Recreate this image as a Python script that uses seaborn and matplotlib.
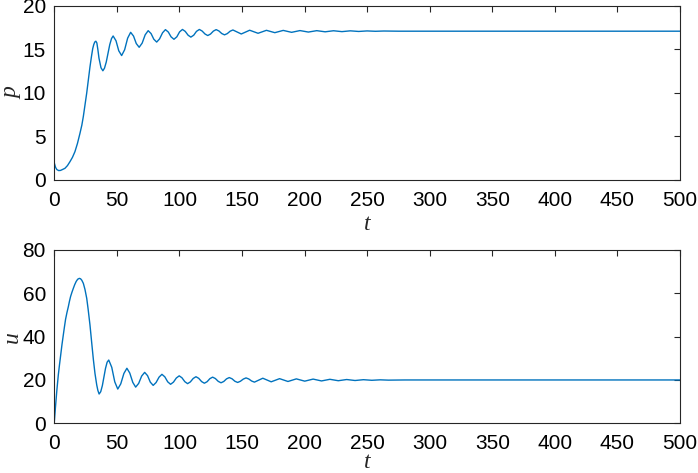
import numpy as np
import pandas as pd
import seaborn as sns
import matplotlib
matplotlib.use('Agg')
import matplotlib.pyplot as plt

# p(t): values
t_p = [0, 1, 2, 3.5, 5, 6.5, 8.5, 10.5, 12.5, 14.5, 16.5, 18.5, 20.5, 22, 23.2, 24.5, 25.9, 27.2, 28.5, 29.7,
       30.7, 31.5, 32.3, 33.2, 34.0, 34.8, 35.7, 37.3,
       38.8, 40.1, 41.5, 42.9, 44.3, 45.7, 47.0, 49.3, 51.5, 53.8, 56.2, 58.6, 61.0, 63.3, 65.5, 67.8, 70.2, 72.6,
       75.0, 77.3, 79.5, 81.8, 84.1, 86.5, 88.8, 91.1, 93.3, 95.6, 97.9, 100.1, 102.4, 104.6, 106.9,
       109.1, 111.4, 113.6, 115.9, 118.1, 120.4, 122.6, 124.8, 127.1, 129.3, 131.5, 133.8, 136.0,
       138.2, 140.5, 142.7, 149.4, 156.1, 162.8, 169.5, 176.2, 182.9, 189.6, 196.3, 203.0, 209.7,
       216.4, 223.1, 229.8, 236.5, 243.2, 249.9, 256.6, 263.3, 275, 500]
p_vals = [1.95, 1.45, 1.2, 1.08, 1.1, 1.2, 1.34, 1.65, 2.1, 2.6, 3.26, 4.2, 5.36, 6.3, 7.3, 8.6, 10.0, 11.5, 13.0, 14.2,
          15.1, 15.55, 15.85, 15.95, 15.75, 15.0, 14.0, 12.9,
          12.55, 12.85, 13.55, 14.55, 15.55, 16.25, 16.55, 16.0, 14.85, 14.3, 14.97, 16.3, 16.97, 16.54, 15.68, 15.25, 15.73, 16.68,
          17.16, 16.83, 16.18, 15.85, 16.21, 16.92, 17.28, 17.0, 16.45, 16.17, 16.45, 17.02, 17.3, 17.08, 16.64,
          16.42, 16.64, 17.08, 17.3, 17.12, 16.78, 16.6, 16.77, 17.11, 17.28, 17.13, 16.83, 16.68,
          16.82, 17.1, 17.24, 16.78, 17.21, 16.86, 17.2, 16.93, 17.19, 16.97, 17.17, 17.0, 17.16,
          17.03, 17.15, 17.05, 17.14, 17.07, 17.13, 17.09, 17.12, 17.1, 17.1]

# u(t): values
t_u = [0, 1, 2, 3.2, 4.1, 5, 6.1, 7.2, 8.1, 9, 10.1, 11.2, 12.1, 13, 14.1, 15.2, 16.3, 17.5, 18.7, 20.0, 21.0, 22,
       23.2, 24.5, 25.9, 27, 28.5, 30, 31.2, 32.5, 33.9, 34.8, 35.8, 37.1, 38.4, 39.6, 40.9, 42.2, 43.5, 45.9, 48.3,
       50.7, 53.1, 55.6, 58.0, 60.3, 62.7, 65.0, 67.4,
       69.8, 72.2, 74.5, 76.7, 79.0, 81.3, 83.7, 86.0, 88.3, 90.6, 92.9, 95.2, 97.5, 99.8, 102.0, 104.3,
       106.5, 108.7, 111.0, 113.2, 115.4, 117.7, 119.9, 122.1, 124.3, 126.5, 128.7, 131.0, 133.2, 135.4,
       137.6, 139.8, 142.0, 144.3, 146.5, 148.7, 151.0, 153.2, 155.4, 157.7, 159.9, 166.6, 173.3, 180.0,
       186.7, 193.4, 200.1, 206.8, 213.5, 220.2, 226.9, 233.6, 240.3, 247.0, 253.7, 260.4, 267, 280, 500]
u_vals = [0.5, 8, 15, 22.3, 26.8, 31, 36.2, 40.8, 44.5, 48, 51.1, 53.8, 56.3, 58.5, 60.5, 62.3, 64.0, 65.5, 66.5, 66.9,
          66.7, 66.0, 64.6, 61.8, 57.7, 52.8, 45.4, 36.5, 29.5, 23.0,
          17.7, 15.2, 13.5, 14.6, 17.4, 21.2, 25.3, 28.2, 29.2, 25.85, 19.15, 15.8, 18.2, 23.0, 25.4, 23.2, 18.9, 16.7, 18.4,
          21.8, 23.5, 22.0, 19.0, 17.5, 18.8, 21.3, 22.6, 21.45, 19.15, 18.0, 19.0, 20.9, 21.9, 21.0, 19.2,
          18.3, 19.1, 20.7, 21.5, 20.75, 19.25, 18.5, 19.2, 20.6, 21.3, 20.65, 19.35, 18.7, 19.3,
          20.5, 21.1, 20.55, 19.4, 18.85, 19.4, 20.4, 20.95, 20.45, 19.5, 19.0, 20.8, 19.15, 20.6,
          19.3, 20.5, 19.45, 20.4, 19.55, 20.3, 19.65, 20.2, 19.75, 20.12, 19.85, 20.06, 19.92, 20.0, 20.0]

x_ticks = np.arange(0, 501, 50)
p_ticks = [0, 5, 10, 15, 20]
u_ticks = [0, 20, 40, 60, 80]

sns.set_style('white')
plt.rcParams['font.family'] = ['Liberation Sans', 'DejaVu Sans']

line_color = '#0072BD'
axis_color = '#262626'
label_font = {'family': 'Liberation Serif', 'style': 'italic', 'size': 17}

fig = plt.figure(figsize=(6.98, 4.73), dpi=100)
ax1 = fig.add_axes([0.0778, 0.6195, 0.8965, 0.3679])
ax2 = fig.add_axes([0.0778, 0.1051, 0.8965, 0.3664])

panels = [(ax1, t_p, p_vals, p_ticks, 'p', 2.5), (ax2, t_u, u_vals, u_ticks, 'u', -1)]
for ax, tt, yy, yt, name, xpad in panels:
    sns.lineplot(x=tt, y=yy, ax=ax, color=line_color, linewidth=1.0)
    ax.set_xlim(0, 500)
    ax.set_ylim(yt[0], yt[-1])
    ax.set_xticks(x_ticks)
    ax.set_yticks(yt)
    ax.tick_params(direction='in', length=4.5, width=0.8, top=True, right=True,
                   labelsize=15, colors=axis_color, labelcolor='black')
    ax.tick_params(axis='x', pad=8)
    ax.tick_params(axis='y', pad=6)
    for s in ax.spines.values():
        s.set_color(axis_color)
        s.set_linewidth(0.8)
    ax.set_xlabel('t', fontdict=label_font, labelpad=xpad)
    ax.set_ylabel(name, fontdict=label_font)
    ax.yaxis.set_label_coords(-0.051, 0.5)

fig.savefig('out.png', dpi=100)
